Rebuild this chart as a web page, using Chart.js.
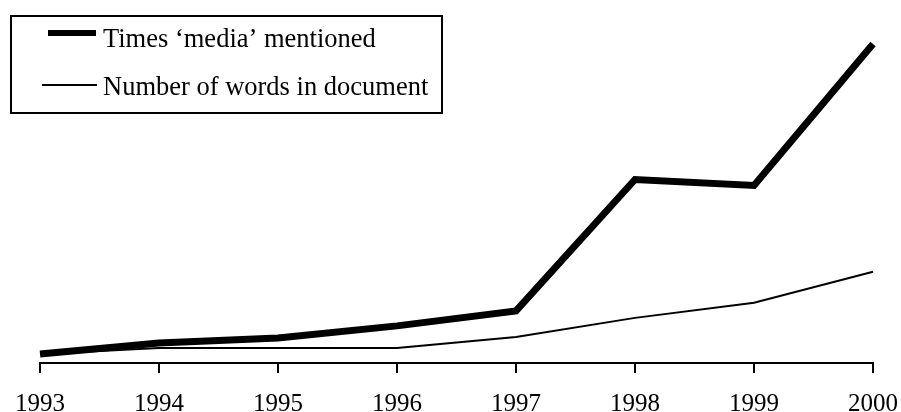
<!DOCTYPE html>
<html>
<head>
<meta charset="utf-8">
<script src="https://cdn.jsdelivr.net/npm/chart.js@4"></script>
<style>
  html, body { margin: 0; padding: 0; background: #fff; }
</style>
</head>
<body>
<canvas id="mediaChart" width="901" height="412"></canvas>
<script>
const years = ['1993', '1994', '1995', '1996', '1997', '1998', '1999', '2000'];
const mediaMentions = [9, 20, 25, 37, 52, 183, 177, 318];
const documentWords = [9, 15, 15, 15, 26, 45, 60, 91];
const seriesNames = ['Times \u2018media\u2019 mentioned', 'Number of words in document'];

const serif = '"Liberation Serif", "Times New Roman", serif';

// legend box drawn by hand, the original has thick/thin sample lines of different length
const boxLegend = {
    id: 'boxLegend',
    afterDraw(chart) {
        const ctx = chart.ctx;
        ctx.save();
        ctx.strokeStyle = '#000';
        ctx.lineWidth = 2;
        ctx.strokeRect(11, 16, 431, 97);

        ctx.lineCap = 'butt';
        ctx.lineWidth = 6;
        ctx.beginPath();
        ctx.moveTo(48, 33);
        ctx.lineTo(96, 33);
        ctx.stroke();

        ctx.lineWidth = 2;
        ctx.beginPath();
        ctx.moveTo(42, 85);
        ctx.lineTo(97, 85);
        ctx.stroke();

        ctx.fillStyle = '#000';
        ctx.font = '26.5px ' + serif;
        ctx.textBaseline = 'alphabetic';
        ctx.fillText(chart.data.datasets[0].label, 103, 47);
        ctx.fillText(chart.data.datasets[1].label, 103, 95);
        ctx.restore();
    }
};

new Chart(document.getElementById('mediaChart').getContext('2d'), {
    type: 'line',
    data: {
        labels: years,
        datasets: [{
            label: seriesNames[0],
            data: mediaMentions,
            borderColor: '#000',
            borderWidth: 7,
            borderJoinStyle: 'miter',
            pointRadius: 0,
            tension: 0
        }, {
            label: seriesNames[1],
            data: documentWords,
            borderColor: '#000',
            borderWidth: 2,
            borderJoinStyle: 'miter',
            pointRadius: 0,
            tension: 0
        }]
    },
    options: {
        responsive: false,
        animation: false,
        layout: {
            padding: { left: 40, right: 28, top: 20, bottom: -23 }
        },
        plugins: {
            legend: { display: false },
            tooltip: { enabled: false }
        },
        scales: {
            x: {
                offset: false,
                // edge labels may hang over the plot edges like in the original
                afterFit: (scale) => {
                    scale.paddingLeft = 0;
                    scale.paddingRight = 0;
                },
                border: { display: true, color: '#000', width: 2 },
                grid: {
                    drawOnChartArea: false,
                    drawTicks: true,
                    tickLength: 10,
                    color: '#000',
                    lineWidth: 2
                },
                ticks: {
                    color: '#000',
                    padding: 16,
                    maxRotation: 0,
                    autoSkip: false,
                    font: { family: serif, size: 25 }
                }
            },
            y: {
                display: false,
                min: 0,
                max: 342
            }
        }
    },
    plugins: [boxLegend]
});
</script>
</body>
</html>
